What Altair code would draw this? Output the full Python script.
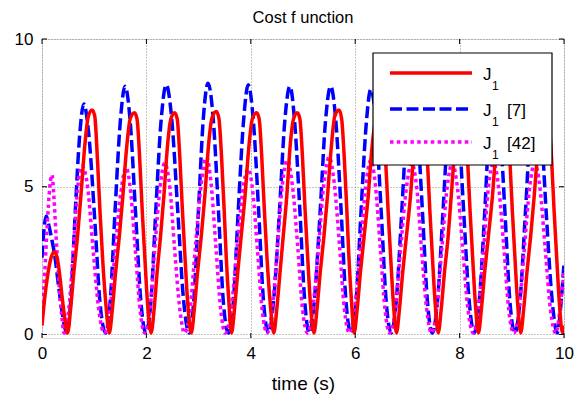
import altair as alt
import pandas as pd

# ---------------- data ----------------
red_t = [0.00, 0.05, 0.10, 0.16, 0.23, 0.29, 0.34, 0.39, 0.44, 0.49,
         0.55, 0.61, 0.68, 0.75, 0.82, 0.89, 0.96, 1.01, 1.06, 1.11, 1.16, 1.22, 1.29,
         1.35, 1.41, 1.48, 1.55, 1.62, 1.69, 1.77, 1.82, 1.87, 1.92, 1.97, 2.02, 2.09,
         2.15, 2.21, 2.27, 2.34, 2.40, 2.47, 2.54, 2.59, 2.64, 2.69, 2.74, 2.79, 2.86,
         2.92, 2.98, 3.05, 3.12, 3.19, 3.26, 3.34, 3.39, 3.44, 3.49, 3.53, 3.58, 3.63,
         3.69, 3.75, 3.82, 3.89, 3.96, 4.03, 4.11, 4.16, 4.21, 4.26, 4.31, 4.37, 4.44,
         4.50, 4.56, 4.62, 4.69, 4.75, 4.82, 4.89, 4.94, 4.99, 5.04, 5.09, 5.14, 5.21,
         5.27, 5.33, 5.40, 5.47, 5.54, 5.61, 5.69, 5.74, 5.79, 5.84, 5.88, 5.93, 5.98,
         6.04, 6.10, 6.17, 6.25, 6.32, 6.40, 6.48, 6.53, 6.58, 6.63, 6.68, 6.73, 6.79,
         6.85, 6.91, 6.98, 7.06, 7.13, 7.20, 7.28, 7.33, 7.38, 7.43, 7.48, 7.53, 7.59,
         7.65, 7.71, 7.78, 7.84, 7.91, 7.98, 8.05, 8.10, 8.15, 8.20, 8.25, 8.30, 8.36,
         8.42, 8.48, 8.55, 8.63, 8.70, 8.78, 8.86, 8.91, 8.96, 9.01, 9.06, 9.11, 9.17,
         9.23, 9.29, 9.36, 9.43, 9.50, 9.58, 9.66, 9.71, 9.76, 9.81, 9.86, 9.91, 9.97, 10.0]
red_v = [0.3, 1.2, 1.9, 2.5, 2.8, 2.6, 2.0, 1.2, 0.5, 0.05,
         0.9, 2.1, 3.3, 4.8, 6.4, 7.4, 7.6, 7.4, 6.0, 4.2, 2.6, 1.1, 0.05,
         0.9, 2.1, 3.3, 4.7, 6.3, 7.3, 7.5, 7.3, 6.0, 4.2, 2.6, 1.1, 0.05,
         0.9, 2.2, 3.3, 4.8, 6.3, 7.3, 7.5, 7.3, 6.0, 4.2, 2.6, 1.1, 0.05,
         0.9, 2.1, 3.3, 4.7, 6.4, 7.35, 7.55, 7.3, 6.0, 4.2, 2.6, 1.1, 0.05,
         0.9, 2.1, 3.4, 4.7, 6.3, 7.3, 7.5, 7.3, 6.0, 4.2, 2.6, 1.1, 0.05,
         0.9, 2.1, 3.3, 4.7, 6.3, 7.3, 7.5, 7.3, 6.0, 4.2, 2.6, 1.1, 0.05,
         0.9, 2.1, 3.3, 4.7, 6.3, 7.4, 7.6, 7.3, 6.0, 4.2, 2.6, 1.1, 0.05,
         0.9, 2.1, 3.3, 4.7, 6.3, 7.3, 7.5, 7.3, 6.0, 4.2, 2.6, 1.1, 0.05,
         0.9, 2.1, 3.3, 4.7, 6.3, 7.3, 7.5, 7.3, 6.0, 4.2, 2.6, 1.1, 0.05,
         0.9, 2.1, 3.3, 4.7, 6.3, 7.3, 7.5, 7.3, 6.0, 4.2, 2.6, 1.1, 0.05,
         0.9, 2.1, 3.3, 4.7, 6.3, 7.3, 7.5, 7.3, 6.0, 4.2, 2.6, 1.1, 0.05,
         0.9, 2.1, 3.3, 4.7, 6.3, 7.3, 7.5, 7.3, 6.0, 4.2, 2.6, 1.1, 0.05, 0.3]

blue_t = [0.00, 0.04, 0.08, 0.13, 0.19, 0.25, 0.32, 0.39, 0.47,
          0.55, 0.63, 0.72, 0.80, 0.90, 1.01, 1.11, 1.22,
          1.31, 1.40, 1.50, 1.59, 1.69, 1.79, 1.89, 1.99,
          2.09, 2.18, 2.28, 2.38, 2.49, 2.60, 2.71, 2.82,
          2.91, 3.00, 3.09, 3.18, 3.28, 3.38, 3.47, 3.57,
          3.67, 3.76, 3.86, 3.95, 4.05, 4.15, 4.24, 4.34,
          4.44, 4.55, 4.65, 4.75, 4.84, 4.94, 5.03, 5.12,
          5.22, 5.33, 5.43, 5.53, 5.63, 5.73, 5.82, 5.92,
          6.02, 6.11, 6.21, 6.30, 6.40, 6.50, 6.59, 6.69,
          6.79, 6.89, 6.99, 7.09, 7.19, 7.29, 7.38, 7.48,
          7.58, 7.68, 7.78, 7.88, 7.98, 8.08, 8.18, 8.28,
          8.38, 8.48, 8.57, 8.67, 8.77, 8.87, 8.96, 9.06,
          9.16, 9.26, 9.36, 9.46, 9.56, 9.66, 9.77, 9.87,
          9.94, 10.0]
blue_v = [2.6, 3.6, 4.0, 3.7, 3.2, 2.6, 1.6, 0.7, 0.05,
          1.1, 3.9, 6.7, 7.8, 6.7, 3.9, 1.1, 0.05,
          1.2, 4.2, 7.2, 8.4, 7.2, 4.2, 1.2, 0.05,
          1.2, 4.2, 7.2, 8.45, 7.2, 4.2, 1.2, 0.05,
          1.2, 4.3, 7.3, 8.5, 7.3, 4.2, 1.2, 0.05,
          1.2, 4.2, 7.2, 8.45, 7.2, 4.2, 1.2, 0.05,
          1.2, 4.2, 7.2, 8.4, 7.2, 4.2, 1.2, 0.05,
          1.2, 4.2, 7.2, 8.4, 7.2, 4.2, 1.2, 0.05,
          1.2, 4.1, 7.1, 8.3, 7.1, 4.1, 1.2, 0.05,
          1.2, 4.1, 7.1, 8.3, 7.1, 4.1, 1.2, 0.05,
          1.2, 4.1, 7.1, 8.3, 7.1, 4.1, 1.2, 0.05,
          1.2, 4.1, 7.1, 8.3, 7.1, 4.1, 1.2, 0.05,
          1.2, 4.1, 7.1, 8.3, 7.1, 4.1, 1.2, 0.05,
          1.0, 2.4]

mag_t = [0.00, 0.05, 0.10, 0.15, 0.19, 0.23, 0.27, 0.33, 0.38, 0.42,
         0.51, 0.60, 0.68, 0.77, 0.88, 0.98, 1.09, 1.19,
         1.30, 1.40, 1.51, 1.61, 1.70, 1.79, 1.88, 1.97,
         2.07, 2.16, 2.26, 2.35, 2.45, 2.54, 2.64, 2.73,
         2.84, 2.94, 3.05, 3.15, 3.24, 3.33, 3.42, 3.51,
         3.62, 3.73, 3.84, 3.95, 4.04, 4.13, 4.22, 4.31,
         4.41, 4.51, 4.60, 4.70, 4.80, 4.90, 4.99, 5.09,
         5.19, 5.30, 5.40, 5.50, 5.60, 5.70, 5.79, 5.89,
         5.99, 6.10, 6.20, 6.30, 6.39, 6.48, 6.57, 6.66,
         6.77, 6.87, 6.98, 7.08, 7.18, 7.27, 7.37, 7.46,
         7.56, 7.66, 7.76, 7.86, 7.96, 8.06, 8.16, 8.26,
         8.36, 8.46, 8.55, 8.65, 8.75, 8.85, 8.94, 9.04,
         9.14, 9.24, 9.34, 9.44, 9.54, 9.64, 9.74, 9.84,
         9.92, 10.0]
mag_v = [0.6, 2.0, 3.7, 5.0, 5.4, 4.6, 3.3, 1.6, 0.6, 0.05,
         0.8, 2.85, 4.9, 5.7, 4.9, 2.85, 0.8, 0.05,
         0.8, 2.8, 4.8, 5.65, 4.8, 2.8, 0.8, 0.05,
         0.85, 2.9, 4.95, 5.8, 4.95, 2.9, 0.85, 0.05,
         0.9, 3.0, 5.1, 6.0, 5.1, 3.0, 0.9, 0.05,
         0.8, 2.8, 4.8, 5.6, 4.8, 2.8, 0.8, 0.05,
         0.85, 2.95, 5.0, 5.9, 5.0, 2.95, 0.85, 0.05,
         0.9, 3.0, 5.1, 6.0, 5.1, 3.0, 0.9, 0.05,
         0.85, 2.95, 5.0, 5.9, 5.0, 2.95, 0.85, 0.05,
         0.85, 2.9, 4.95, 5.8, 4.95, 2.9, 0.85, 0.05,
         0.85, 2.9, 4.95, 5.8, 4.95, 2.9, 0.85, 0.05,
         0.85, 2.9, 4.95, 5.8, 4.95, 2.9, 0.85, 0.05,
         0.85, 2.9, 4.95, 5.8, 4.95, 2.9, 0.85, 0.05,
         0.8, 2.2]

x_ticks = [0, 2, 4, 6, 8, 10]
y_ticks = [0, 5, 10]
legend_labels = ["[7]", "[42]"]

FONT = "Liberation Sans"
W, H = 522, 299

# ---------------- encodings ----------------
x_enc = alt.X("t:Q",
              scale=alt.Scale(domain=[0, 10], nice=False, zero=False),
              axis=alt.Axis(values=x_ticks, format="d", title="time (s)",
                            grid=True, gridDash=[1, 2], gridColor="#8a8a8a", gridWidth=1,
                            domain=False, ticks=False, tickSize=0,
                            labelFont=FONT, labelFontSize=17, labelColor="black",
                            labelPadding=7, labelFlush=False,
                            titleFont=FONT, titleFontSize=19, titleFontWeight="normal",
                            titleColor="black", titleY=45, titleBaseline="middle"))
y_enc = alt.Y("v:Q",
              scale=alt.Scale(domain=[-0.12, 10], nice=False, zero=False),
              axis=alt.Axis(values=y_ticks, format="d", title=None,
                            grid=True, gridDash=[1, 2], gridColor="#8a8a8a", gridWidth=1,
                            domain=False, ticks=False, tickSize=0,
                            labelFont=FONT, labelFontSize=17, labelColor="black",
                            labelPadding=9, labelFlush=False))


def series(ts, vs):
    return pd.DataFrame({"t": ts, "v": vs})


BLUE_DASH = [12, 4.5]
MAG_DASH = [3.5, 3.3]

blue = alt.Chart(series(blue_t, blue_v)).mark_line(
    color="#0000FF", strokeWidth=3.5, strokeDash=BLUE_DASH, strokeCap="butt",
    interpolate="monotone", clip=True).encode(x=x_enc, y=y_enc)
mag = alt.Chart(series(mag_t, mag_v)).mark_line(
    color="#FF00FF", strokeWidth=3.5, strokeDash=MAG_DASH, strokeCap="butt",
    interpolate="monotone", clip=True).encode(x=x_enc, y=y_enc)
red = alt.Chart(series(red_t, red_v)).mark_line(
    color="#FF0000", strokeWidth=3.5, interpolate="monotone", clip=True).encode(x=x_enc, y=y_enc)

# inward frame ticks (MATLAB style)
xt = pd.DataFrame({"t": x_ticks})
yt = pd.DataFrame({"v": y_ticks})
tick_style = dict(color="black", strokeWidth=1)
ticks = [
    alt.Chart(xt).mark_rule(**tick_style).encode(x=x_enc, y=alt.value(0), y2=alt.value(5)),
    alt.Chart(xt).mark_rule(**tick_style).encode(x=x_enc, y=alt.value(H), y2=alt.value(H - 5)),
    alt.Chart(yt).mark_rule(**tick_style).encode(y=y_enc, x=alt.value(0), x2=alt.value(5)),
    alt.Chart(yt).mark_rule(**tick_style).encode(y=y_enc, x=alt.value(W), x2=alt.value(W - 5)),
]

# ---------------- manual legend (J with subscript 1) ----------------
one = pd.DataFrame({"k": [0]})
LX0, LX1, LY0, LY1 = 331, 510, 14, 126
legend_layers = [
    alt.Chart(one).mark_rect(fill="white", stroke="black", strokeWidth=1.2).encode(
        x=alt.value(LX0), x2=alt.value(LX1), y=alt.value(LY0), y2=alt.value(LY1)),
]
rows = [
    (34, "#FF0000", None, ""),
    (70, "#0000FF", BLUE_DASH, legend_labels[0]),
    (103, "#FF00FF", MAG_DASH, legend_labels[1]),
]
for ry, col, dash, suffix in rows:
    kw = dict(color=col, strokeWidth=3.5, strokeCap="butt")
    if dash:
        kw["strokeDash"] = dash
    legend_layers.append(alt.Chart(one).mark_rule(**kw).encode(
        x=alt.value(348), x2=alt.value(430), y=alt.value(ry), y2=alt.value(ry)))
    legend_layers.append(alt.Chart(one).mark_text(
        text="J", font=FONT, fontSize=17, align="left", baseline="alphabetic", color="black").encode(
        x=alt.value(441), y=alt.value(ry + 7)))
    legend_layers.append(alt.Chart(one).mark_text(
        text="1", font=FONT, fontSize=12, align="left", baseline="alphabetic", color="black").encode(
        x=alt.value(450), y=alt.value(ry + 17)))
    if suffix:
        legend_layers.append(alt.Chart(one).mark_text(
            text=suffix, font=FONT, fontSize=17, align="left", baseline="alphabetic", color="black").encode(
            x=alt.value(465), y=alt.value(ry + 7)))

chart = alt.layer(blue, mag, red, *ticks, *legend_layers).properties(
    width=W, height=H,
    autosize=alt.AutoSizeParams(type="none"),
    padding={"left": 42, "top": 39, "right": 12, "bottom": 63},
    title=alt.TitleParams("Cost f unction", font=FONT, fontSize=16.5, fontWeight="normal",
                          color="black", anchor="middle", frame="group",
                          baseline="middle", offset=0, dy=4),
).configure_view(stroke="black", strokeWidth=1.5).configure(background="white")

chart.save("out.html", embed_options={"renderer": "svg", "actions": False})
